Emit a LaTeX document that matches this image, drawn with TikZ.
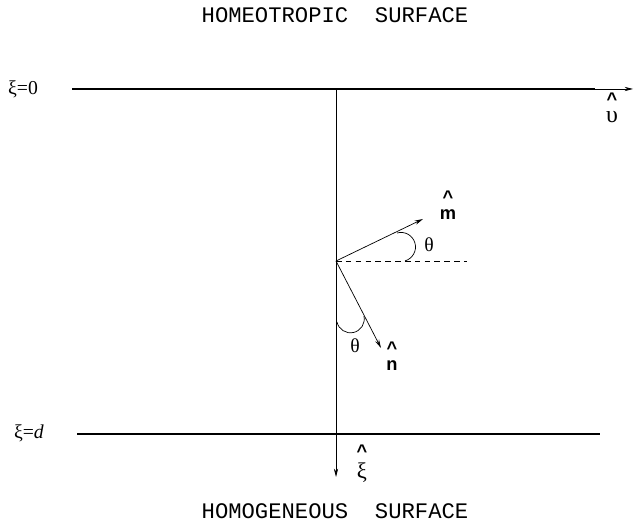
\documentclass[tikz,border=0pt]{standalone}
\usepackage{fontspec}
\setmainfont{Liberation Serif}
\setsansfont{Liberation Sans}
\setmonofont{Liberation Mono}
\usetikzlibrary{arrows.meta}

\newcommand{\hatlbl}[2][2pt]{\shortstack{\fontsize{13}{13}\selectfont\textsf{\bfseries\^{}}\\[#1]#2}}

\begin{document}
\begin{tikzpicture}[
  x=0.025cm, y=0.025cm,
  surf/.style={line width=1.3pt},
  thin/.style={line width=0.5pt},
  ttl/.style={font=\fontsize{15.8}{17}\selectfont\ttfamily, inner sep=0pt, anchor=base},
  lbl/.style={font=\fontsize{14}{16}\selectfont, inner sep=0pt},
  vec/.style={font=\fontsize{13}{15}\selectfont\sffamily\bfseries, inner sep=0pt, align=center},
  >={Stealth[length=6pt, width=3pt]}
]
  \useasboundingbox (0,0) rectangle (638,-523);

  % titles
  \node[ttl] (top) at (335,-23) {HOMEOTROPIC\ \ SURFACE};
  \node[ttl] (bot) at (335,-519) {HOMOGENEOUS\ \ SURFACE};

  % surfaces
  \coordinate (L0) at (72,-89);
  \coordinate (R0) at (595,-89);
  \coordinate (A0) at (633,-89);
  \coordinate (L1) at (77,-434);
  \coordinate (R1) at (600,-434);
  \node[lbl] (xi0) at (23,-89) {ξ=0};
  \node[lbl] (xid) at (29,-433) {ξ=\textit{d}};
  \draw[surf] (L0) -- (R0);
  \draw[thin,->] (L0) -- (A0);
  \draw[surf] (L1) -- (R1);
  \node[lbl, align=center, font=\fontsize{17}{19}\selectfont] (ups) at (612,-108) {\hatlbl[1pt]{υ}};

  % normal axis
  \coordinate (T) at (336,-89);
  \coordinate (O) at (336,-261);
  \coordinate (B) at (336,-477);
  \draw[thin,->] (T) -- (B);
  \node[lbl, align=center, font=\fontsize{16}{18}\selectfont] (xih) at (362,-464) {\hatlbl[1pt]{ξ}};

  % director frame
  \coordinate (M) at (423,-219);
  \coordinate (N) at (381,-348);
  \coordinate (D) at (467,-261);
  \draw[thin,->] (O) -- (M);
  \draw[thin,->] (O) -- (N);
  \draw[thin, dash pattern=on 4pt off 3pt] (O) -- (D);
  \draw[thin] (397,-233) arc[start angle=106, end angle=-74, radius=0.3625cm];
  \draw[thin] (337,-322) arc[start angle=192.5, end angle=372.5, radius=0.345cm];
  \node[vec] (mh) at (448,-205) {\hatlbl[1pt]{m}};
  \node[vec] (nh) at (392,-356) {\hatlbl[1pt]{n}};
  \node[lbl] (th1) at (429,-245) {θ};
  \node[lbl] (th2) at (355,-346) {θ};
\end{tikzpicture}
\end{document}
